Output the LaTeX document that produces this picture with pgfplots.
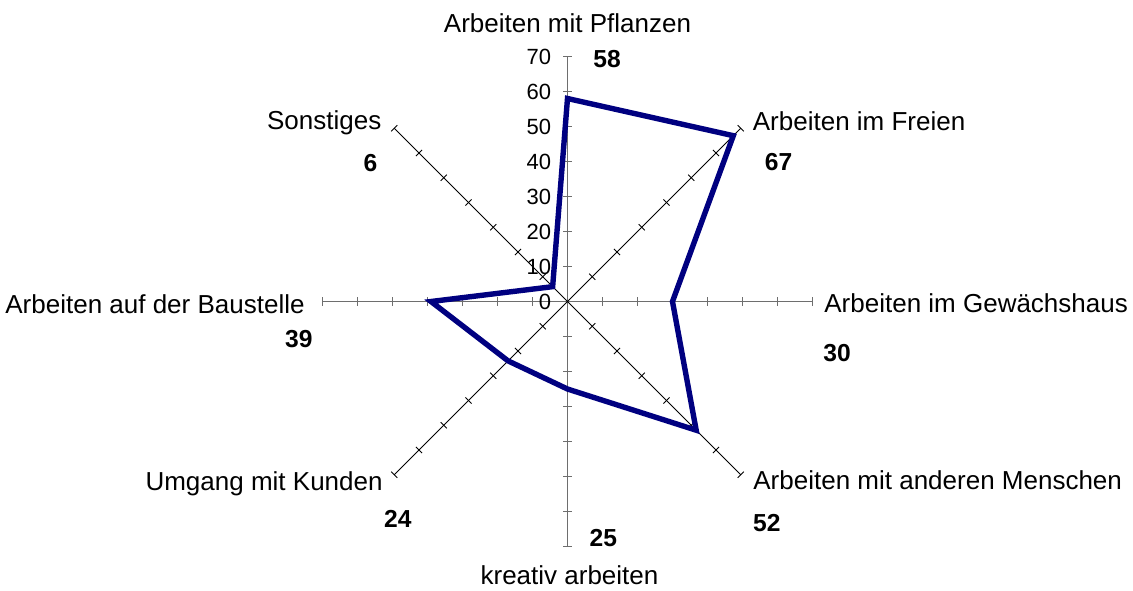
\documentclass[border=0pt]{standalone}
\usepackage{pgfplots}
\pgfplotsset{compat=1.18}
\usepgfplotslibrary{polar}
\usepackage{fontspec}
\setmainfont{Liberation Sans}
\definecolor{linenavy}{RGB}{0,0,128}
\definecolor{axisgray}{RGB}{110,110,110}
\tikzset{
  lab/.style={font=\fontsize{13}{15}\selectfont, inner sep=0pt},
  val/.style={font=\fontsize{12.3}{14}\selectfont\bfseries, inner sep=0pt},
  ticklab/.style={anchor=east, inner sep=0pt, font=\fontsize{11}{13}\selectfont},
}
\begin{document}
\begin{tikzpicture}
\path[use as bounding box] (-283.75pt,-144.25pt) rectangle (282.75pt,150.75pt);
\begin{polaraxis}[
  at={(0pt,0pt)}, anchor=origin,
  scale only axis, width=245pt, height=245pt,
  xmin=0, xmax=360, ymin=0, ymax=70,
  hide axis, clip=false,
]
% spokes: main axes in gray, diagonals in black
\foreach \a in {0,90,180,270}{
  \edef\temp{\noexpand\draw[axisgray, line width=0.9pt] (axis cs:\a,0) -- (axis cs:\a,70);}
  \temp
  \foreach \r in {10,20,...,70}{
    \edef\temp{\noexpand\draw[axisgray, line width=0.9pt] ([shift={(\a+90:2.2pt)}]axis cs:\a,\r) -- ([shift={(\a-90:2.2pt)}]axis cs:\a,\r);}
    \temp
  }
}
\foreach \a in {45,135,225,315}{
  \edef\temp{\noexpand\draw[black, line width=0.5pt] (axis cs:\a,0) -- (axis cs:\a,70);}
  \temp
  \foreach \r in {10,20,...,70}{
    \edef\temp{\noexpand\draw[black, line width=0.5pt] ([shift={(\a+90:2.2pt)}]axis cs:\a,\r) -- ([shift={(\a-90:2.2pt)}]axis cs:\a,\r);}
    \temp
  }
}
% radial tick labels on the vertical axis
\foreach \r in {0,10,...,70}{
  \edef\temp{\noexpand\node[ticklab] at ([xshift=-8pt]axis cs:90,\r) {\r};}
  \temp
}

\addplot[linenavy, line width=2.7pt, line join=miter, mark=none] coordinates {
  (90,58) (45,67) (0,30) (-45,52) (-90,25) (-135,24) (180,39) (135,6) (90,58) (45,67)
};

% category labels
\node[lab, anchor=base] at ([shift={(0pt,134.75pt)}]axis cs:0,0) {Arbeiten mit Pflanzen};
\node[lab, anchor=base west] at ([shift={(92.5pt,85.75pt)}]axis cs:0,0) {Arbeiten im Freien};
\node[lab, anchor=base west] at ([shift={(128.25pt,-5.25pt)}]axis cs:0,0) {Arbeiten im Gewächshaus};
\node[lab, anchor=base west] at ([shift={(92.75pt,-93.9pt)}]axis cs:0,0) {Arbeiten mit anderen Menschen};
\node[lab, anchor=base] at ([shift={(1pt,-141.25pt)}]axis cs:0,0) {kreativ arbeiten};
\node[lab, anchor=base east] at ([shift={(-92.25pt,-94.25pt)}]axis cs:0,0) {Umgang mit Kunden};
\node[lab, anchor=base east] at ([shift={(-131.25pt,-5.75pt)}]axis cs:0,0) {Arbeiten auf der Baustelle};
\node[lab, anchor=base east] at ([shift={(-92.9pt,86.25pt)}]axis cs:0,0) {Sonstiges};
% values
\node[val, anchor=base west] at ([shift={(12.75pt,117.25pt)}]axis cs:0,0) {58};
\node[val, anchor=base west] at ([shift={(98.5pt,65.4pt)}]axis cs:0,0) {67};
\node[val, anchor=base west] at ([shift={(127.75pt,-29.75pt)}]axis cs:0,0) {30};
\node[val, anchor=base west] at ([shift={(92.6pt,-115.1pt)}]axis cs:0,0) {52};
\node[val, anchor=base west] at ([shift={(10.9pt,-122.25pt)}]axis cs:0,0) {25};
\node[val, anchor=base east] at ([shift={(-77.75pt,-112.75pt)}]axis cs:0,0) {24};
\node[val, anchor=base east] at ([shift={(-127.25pt,-22.75pt)}]axis cs:0,0) {39};
\node[val, anchor=base east] at ([shift={(-94.9pt,64.9pt)}]axis cs:0,0) {6};
\end{polaraxis}
\end{tikzpicture}
\end{document}
